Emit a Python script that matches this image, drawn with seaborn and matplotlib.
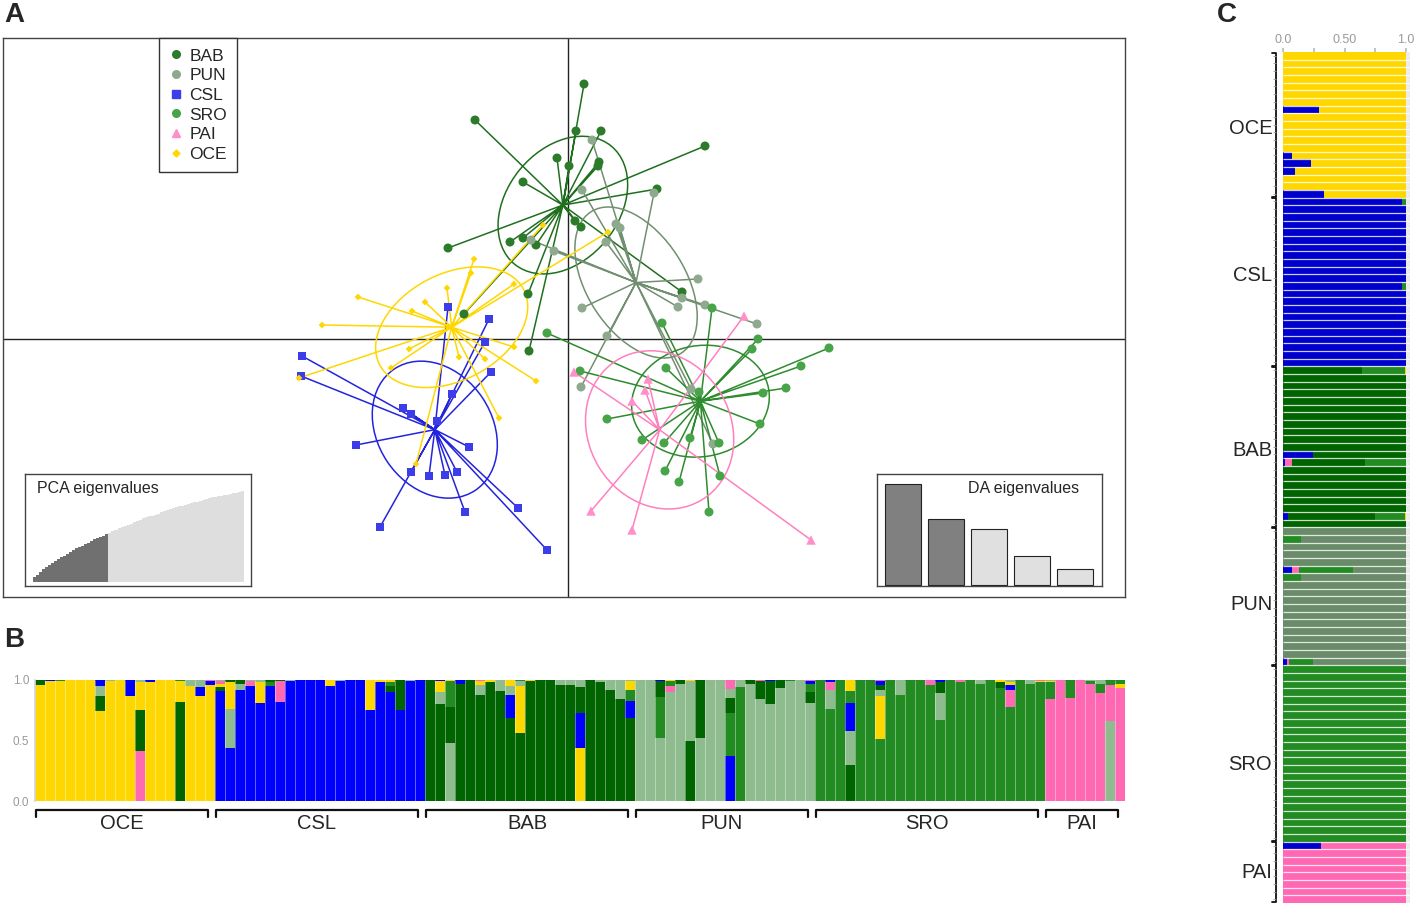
import numpy as np
import pandas as pd
import matplotlib
matplotlib.use("Agg")
import matplotlib.pyplot as plt
import seaborn as sns
from matplotlib.patches import Ellipse
from matplotlib.lines import Line2D

sns.set_theme(style="white")
plt.rcParams['font.family'] = ['Liberation Sans', 'DejaVu Sans']

W, H = 1417, 907

# ---------------- Panel A: DAPC scores (LD1, LD2) ----------------
pops = ["BAB", "PUN", "CSL", "SRO", "PAI", "OCE"]

bab_x = [-1.86, -0.22, 0.02, -0.90, 0.16, 0.14, -1.16, -0.90, -0.64, -2.40, -0.80,
         -2.08, 0.32, 0.66, 0.62, 0.60, 2.74, 1.78, 0.26, 2.28, -0.78]
bab_y = [4.38, 3.62, 3.46, 3.14, 4.16, 2.36, 1.94, 2.02, 1.88, 1.82, 0.90,
         0.50, 5.10, 4.16, 3.54, 3.46, 3.86, 3.00, 2.24, 0.94, -0.24]

pun_x = [0.48, 0.28, 1.72, 0.96, 1.04, 0.76, -0.28, -0.74, 2.60, 0.28, 2.20,
         2.28, 2.74, 3.78, 0.78, 0.26, 2.46, 2.90]
pun_y = [3.98, 2.98, 2.92, 2.30, 2.22, 1.94, 1.76, 1.98, 1.20, 0.62, 0.64,
         0.82, 0.68, 0.30, 0.06, -0.96, -1.00, -2.10]

csl_x = [-2.40, -1.58, -1.66, -5.32, -5.34, -1.54, -2.32, -3.30, -3.14, -2.62,
         -4.24, -1.98, -3.14, -2.78, -2.46, -2.22, -1.00, -2.06, -3.76, -0.42]
csl_y = [0.64, 0.40, -0.06, -0.34, -0.74, -0.66, -1.10, -1.38, -1.50, -1.64,
         -2.12, -2.16, -2.66, -2.74, -2.72, -2.66, -3.38, -3.46, -3.76, -4.22]

sro_x = [2.88, 1.88, -0.42, 3.80, 3.68, 5.22, 4.66, 0.24, 1.96, 2.62, 4.36,
         3.90, 0.78, 3.84, 1.48, 1.92, 2.44, 3.02, 1.94, 3.04, 2.22, 2.82]
sro_y = [0.62, 0.32, 0.12, 0.00, -0.20, -0.18, -0.54, -0.64, -0.58, -1.06, -0.98,
         -1.08, -1.60, -1.70, -2.02, -2.08, -1.98, -2.08, -2.64, -2.74, -2.86, -3.46]

pai_x = [3.52, 0.12, 1.60, 1.54, 1.28, 0.46, 1.28, 4.86]
pai_y = [0.46, -0.66, -0.80, -1.02, -1.24, -3.44, -3.82, -4.02]

oce_x = [-1.88, -1.94, -2.42, -2.86, -3.12, -4.20, -4.92, -1.08, -0.50, 0.80,
         -3.18, -3.54, -2.18, -1.66, -1.08, -0.64, -1.38, -5.38, -3.04]
oce_y = [1.60, 1.32, 1.02, 0.74, 0.56, 0.84, 0.28, 1.10, 2.28, 2.14,
         -0.20, -0.58, -0.36, -0.40, -0.16, -0.84, -1.58, -0.78, -2.50]

# inset eigenvalues
pca_cum = [5, 8, 11, 14, 16, 19, 21, 23, 25, 27, 29, 31, 33, 35, 37, 38, 40, 42, 43,
           45, 47, 48, 50, 51, 53,
           54, 56, 57, 59, 60, 62, 63, 64, 66, 67, 68, 70, 71, 72, 73, 74, 75, 77,
           78, 79, 80, 81, 82, 83, 84, 85, 86, 87, 88, 88, 89, 90, 91, 92, 93, 93,
           94, 95, 96, 96, 97, 98, 98, 99, 100]
n_pca_kept = 25
da_eig = [101, 66, 56, 29, 16]
n_da_kept = 2

# ---------------- Panel B: membership per individual ----------------
B_OCE = [dict(Y=.96, D=.04), dict(Y=.99, B=.01), dict(Y=.99, G=.01), dict(Y=1.0),
         dict(Y=1.0), dict(Y=1.0), dict(Y=.74, D=.13, L=.08, B=.05), dict(Y=.99, L=.01),
         dict(Y=1.0), dict(Y=.87, B=.13), dict(P=.41, D=.34, Y=.23, L=.02),
         dict(Y=.98, B=.02), dict(Y=1.0), dict(Y=1.0), dict(D=.82, Y=.17, G=.01),
         dict(Y=.95, L=.05), dict(Y=.87, B=.07, L=.06), dict(Y=.96, B=.03, P=.01)]
B_CSL = [dict(B=.91, D=.03, Y=.03, P=.02, L=.01), dict(B=.44, L=.32, Y=.22, D=.02),
         dict(B=.92, L=.05, D=.03), dict(B=.95, P=.04, L=.01), dict(B=.81, Y=.17, L=.02),
         dict(B=.95, G=.03, D=.02), dict(B=.82, P=.17, D=.01), dict(B=.99, L=.01),
         dict(B=1.0), dict(B=1.0), dict(B=1.0), dict(B=.95, Y=.05), dict(B=.99, L=.01),
         dict(B=1.0), dict(B=1.0), dict(B=.75, Y=.25), dict(B=.98, Y=.02),
         dict(B=.90, D=.05, G=.03, Y=.02), dict(B=.75, D=.25), dict(B=.99, L=.01),
         dict(B=1.0)]
B_BAB = [dict(D=1.0), dict(D=.80, L=.10, Y=.09, B=.01), dict(L=.48, D=.30, G=.21, Y=.01),
         dict(D=.97, B=.03), dict(D=1.0), dict(D=.88, L=.08, Y=.03, P=.01),
         dict(D=.98, Y=.02), dict(D=.91, L=.09), dict(D=.69, B=.19, L=.07, Y=.05),
         dict(D=.56, Y=.39, L=.04, G=.01), dict(D=.99, Y=.01), dict(D=1.0), dict(D=1.0),
         dict(D=.96, L=.04), dict(D=.96, L=.04), dict(Y=.44, B=.29, D=.21, L=.06),
         dict(D=1.0), dict(D=.98, L=.02), dict(D=.92, L=.08), dict(D=.84, L=.16),
         dict(D=.69, B=.14, G=.09, Y=.07, L=.01)]
B_PUN = [dict(L=1.0), dict(L=1.0), dict(L=.52, G=.34, D=.13, B=.01),
         dict(L=.90, P=.05, G=.04, Y=.01), dict(L=.97, D=.03), dict(D=.50, L=.49, Y=.01),
         dict(L=.52, D=.48), dict(L=1.0), dict(L=1.0), dict(B=.37, G=.35, D=.12, L=.08, P=.07),
         dict(G=.94, L=.06), dict(L=.97, D=.03), dict(L=.84, D=.15, P=.01),
         dict(L=.80, D=.19, B=.01), dict(L=.93, D=.07), dict(L=.99, G=.01), dict(L=1.0),
         dict(L=.81, D=.09, G=.07, B=.02, P=.01)]
B_SRO = [dict(G=1.0), dict(G=.76, L=.16, P=.06, B=.02), dict(G=1.0),
         dict(D=.30, L=.28, B=.23, G=.10, Y=.09), dict(G=1.0), dict(G=1.0),
         dict(G=.51, Y=.36, L=.05, D=.04, B=.03, P=.01), dict(G=1.0), dict(G=.88, L=.12),
         dict(G=1.0), dict(G=1.0), dict(G=.96, P=.04), dict(G=.67, L=.22, D=.09, B=.02),
         dict(G=1.0), dict(G=.98, P=.02), dict(G=1.0), dict(G=.97, L=.03), dict(G=1.0),
         dict(G=.93, D=.05, Y=.02), dict(G=.78, P=.14, B=.04, Y=.02, L=.02), dict(G=1.0),
         dict(G=.97, L=.03), dict(G=.98, Y=.01, P=.01)]
B_PAI = [dict(P=.84, G=.14, Y=.01, L=.01), dict(P=1.0), dict(P=.85, G=.15), dict(P=1.0),
         dict(P=.97, G=.02, L=.01), dict(P=.89, G=.08, L=.03), dict(L=.66, P=.30, G=.04),
         dict(P=.93, Y=.04, G=.03)]

# ---------------- Panel C: membership per individual ----------------
C_OCE = ([dict(Y=1.0)] * 7 + [dict(B=.29, Y=.71)] + [dict(Y=1.0)] * 5 +
         [dict(B=.07, Y=.93), dict(B=.23, Y=.77), dict(B=.10, Y=.90)] +
         [dict(Y=1.0)] * 2 + [dict(B=.33, Y=.67)])
C_CSL = ([dict(B=.97, G=.03)] + [dict(B=1.0)] * 10 + [dict(B=.97, G=.03)] +
         [dict(B=1.0)] * 10)
C_BAB = ([dict(D=.64, G=.35, Y=.01)] + [dict(D=1.0)] * 10 + [dict(B=.24, D=.76),
         dict(B=.02, P=.05, D=.60, G=.33)] + [dict(D=1.0)] * 6 +
         [dict(B=.04, D=.71, G=.24, Y=.01), dict(D=1.0)])
C_PUN = ([dict(L=1.0), dict(G=.15, L=.85)] + [dict(L=1.0)] * 3 +
         [dict(B=.07, P=.06, G=.44, L=.43), dict(G=.15, L=.85)] + [dict(L=1.0)] * 10 +
         [dict(B=.03, P=.02, G=.19, L=.76)])
C_SRO = [dict(G=1.0)] * 23
C_PAI = [dict(B=.31, P=.69)] + [dict(P=1.0)] * 7
# where each group name sits along the panel C column (row units)
c_label_rows = {"OCE": 9.5, "CSL": 28.7, "BAB": 51.5, "PUN": 71.5, "SRO": 92.5, "PAI": 106.5}

# ---------------- colours ----------------
pt_col = {"BAB": "#2b7b2b", "PUN": "#8ea98e", "CSL": "#3c3ce8", "SRO": "#48a448",
          "PAI": "#ff8fc8", "OCE": "#ffd700"}
ln_col = {"BAB": "#1f6f1f", "PUN": "#718f71", "CSL": "#2424dc", "SRO": "#2e8b2e",
          "PAI": "#ff80bf", "OCE": "#ffd700"}
markers = {"BAB": "o", "PUN": "o", "CSL": "s", "SRO": "o", "PAI": "^", "OCE": "D"}
sizes = {"BAB": 42, "PUN": 42, "CSL": 36, "SRO": 42, "PAI": 46, "OCE": 12}
b_col = {"Y": "#ffd700", "B": "#0000ff", "D": "#006400", "L": "#8fbc8f",
         "G": "#228b22", "P": "#ff69b4"}
c_col = {"B": "#0000cd", "P": "#ff69b4", "D": "#006400", "G": "#228b22",
         "L": "#698b69", "Y": "#ffd700"}
c_order = ["B", "P", "D", "G", "L", "Y"]

fig = plt.figure(figsize=(W / 100, H / 100), dpi=100)

# ---- Panel A ----
xy = {"BAB": (bab_x, bab_y), "PUN": (pun_x, pun_y), "CSL": (csl_x, csl_y),
      "SRO": (sro_x, sro_y), "PAI": (pai_x, pai_y), "OCE": (oce_x, oce_y)}
df = pd.concat([pd.DataFrame({"pop": p, "LD1": xy[p][0], "LD2": xy[p][1]}) for p in pops],
               ignore_index=True)

ax = fig.add_axes([3 / W, 1 - 597 / H, 1122 / W, 559 / H])
ax.axhline(0, color="#222222", lw=1, zorder=0)
ax.axvline(0, color="#222222", lw=1, zorder=0)

for p in pops:
    g = df[df["pop"] == p]
    cx, cy = g["LD1"].mean(), g["LD2"].mean()
    xs, ys = [], []
    for x, y in zip(g["LD1"], g["LD2"]):
        xs += [cx, x, np.nan]
        ys += [cy, y, np.nan]
    ax.plot(xs, ys, color=ln_col[p], lw=1.1, zorder=1)
    cov = np.cov(np.vstack([g["LD1"], g["LD2"]]), bias=True)
    vals, vecs = np.linalg.eigh(cov)
    ang = np.degrees(np.arctan2(vecs[1, 1], vecs[0, 1]))
    ax.add_patch(Ellipse((cx, cy), 2 * np.sqrt(vals[1]), 2 * np.sqrt(vals[0]), angle=ang,
                         fill=False, ec=ln_col[p], lw=1.1, zorder=1))

sns.scatterplot(data=df, x="LD1", y="LD2", hue="pop", style="pop", size="pop",
                palette=pt_col, markers=markers, sizes=sizes, linewidth=0,
                legend=False, ax=ax, zorder=2)
ax.set_xlim(-11.30, 11.14)
ax.set_ylim(-5.16, 6.02)
ax.set_xticks([])
ax.set_yticks([])
ax.set_xlabel("")
ax.set_ylabel("")
for s in ax.spines.values():
    s.set_color("#444444")
    s.set_linewidth(1)

handles = [Line2D([], [], ls="", marker=markers[p], color=pt_col[p],
                  markersize=5.5 if p != "OCE" else 3.5) for p in pops]
leg = ax.legend(handles, pops, loc="upper left", bbox_to_anchor=(0.139, 1.0),
                fontsize=12.5, frameon=True, fancybox=False, framealpha=1,
                handlelength=0.8, handletextpad=0.35, labelspacing=0.26,
                borderpad=0.6, borderaxespad=0)
leg.get_frame().set_edgecolor("#333333")
leg.get_frame().set_linewidth(1)

# PCA eigenvalues inset
ax_p = fig.add_axes([25 / W, 1 - 586 / H, 226 / W, 112 / H])
ax_p.bar(range(len(pca_cum)), pca_cum, width=1.0, lw=0,
         color=["#707070" if i < n_pca_kept else "#dedede" for i in range(len(pca_cum))])
ax_p.set_xlim(-3.2, len(pca_cum) + 1.8)
ax_p.set_ylim(-4.4, 118.7)
ax_p.text(0.053, 0.935, "PCA eigenvalues", transform=ax_p.transAxes, va="top",
          ha="left", fontsize=11.5)

# DA eigenvalues inset
ax_d = fig.add_axes([877 / W, 1 - 586 / H, 225 / W, 112 / H])
ax_d.bar(range(len(da_eig)), da_eig, width=0.84, edgecolor="#222222", lw=0.8,
         color=["#808080" if i < n_da_kept else "#e0e0e0" for i in range(len(da_eig))])
ax_d.set_xlim(-0.60, 4.63)
ax_d.set_ylim(-1, 111)
ax_d.text(0.9, 0.935, "DA eigenvalues", transform=ax_d.transAxes, va="top",
          ha="right", fontsize=11.5)
for a in (ax_p, ax_d):
    a.set_xticks([])
    a.set_yticks([])
    a.set_facecolor("white")
    for s in a.spines.values():
        s.set_color("#444444")
        s.set_linewidth(1)

# ---- Panel B ----
b_groups = [("OCE", B_OCE), ("CSL", B_CSL), ("BAB", B_BAB), ("PUN", B_PUN),
            ("SRO", B_SRO), ("PAI", B_PAI)]
ax_b = fig.add_axes([35 / W, 1 - 801 / H, 1090 / W, 121 / H])
i = 0
spans = []
for name, inds in b_groups:
    start = i
    for q in inds:
        tot = sum(q.values())
        bottom = 0.0
        for k, v in sorted(q.items(), key=lambda kv: -kv[1]):
            ax_b.bar(i, v / tot, bottom=bottom, width=1.0, color=b_col[k], lw=0)
            bottom += v / tot
        i += 1
    spans.append((name, start, i))
n_b = i
ax_b.vlines(np.arange(0.5, n_b - 0.5), 0, 1, colors="white", lw=0.6, alpha=0.45)
ax_b.set_xlim(-0.5, n_b - 0.5)
ax_b.set_ylim(0, 1.0)
ax_b.set_xticks([])
ax_b.set_yticks([0, 0.5, 1.0])
ax_b.set_yticklabels(["0.0", "0.5", "1.0"], color="#9a9a9a", fontsize=8.5)
ax_b.tick_params(axis="y", length=2, color="#cccccc", pad=2)
for k in ("top", "right", "bottom"):
    ax_b.spines[k].set_visible(False)
ax_b.spines["left"].set_color("#d5d5d5")
trb = ax_b.get_xaxis_transform()
for name, s0, s1 in spans:
    x0, x1 = s0 - 0.4, s1 - 1.2
    ax_b.plot([x0, x0, x1, x1], [-0.135, -0.074, -0.074, -0.135], color="#111111",
              lw=1.6, transform=trb, clip_on=False)
    ax_b.text((x0 + x1) / 2, -0.185, name, transform=trb, ha="center", va="center",
              fontsize=14.5)

# ---- Panel C ----
c_groups = [("OCE", C_OCE), ("CSL", C_CSL), ("BAB", C_BAB), ("PUN", C_PUN),
            ("SRO", C_SRO), ("PAI", C_PAI)]
n_c = sum(len(r) for _, r in c_groups)
ax_c = fig.add_axes([1283 / W, 1 - 903 / H, 127 / W, 851 / H])
ax_c.set_facecolor("#ececec")
row = 0
c_spans = []
for name, rows in c_groups:
    start = row
    for q in rows:
        left = 0.0
        for k in c_order:
            v = q.get(k, 0)
            if v:
                ax_c.barh(row, v, left=left, height=1.0, color=c_col[k], lw=0)
                left += v
        row += 1
    c_spans.append((name, start, row))
ax_c.hlines(np.arange(0.5, n_c - 0.5), 0, 1.04, colors="white", lw=0.9, alpha=0.8)
ax_c.set_xlim(0, 1.0325)
ax_c.set_ylim(n_c - 0.5, -0.5)
ax_c.xaxis.tick_top()
ax_c.set_xticks([0, 0.25, 0.5, 0.75, 1.0])
ax_c.set_xticklabels(["0.0", "", "0.50", "", "1.0"], color="#9a9a9a", fontsize=9)
ax_c.tick_params(axis="x", length=3, color="#bbbbbb", pad=1)
ax_c.set_yticks([])
for s in ax_c.spines.values():
    s.set_visible(False)
trc = ax_c.get_yaxis_transform()
for name, s0, s1 in c_spans:
    y0, y1 = s0 - 0.4, s1 - 0.6
    ax_c.plot([-0.085, -0.055, -0.055, -0.085], [y0, y0, y1, y1], color="#111111",
              lw=1.3, transform=trc, clip_on=False)
    ax_c.hlines(np.arange(s0, s1), -0.075, -0.055, colors="#999999", lw=0.6,
                transform=trc, clip_on=False)
    ax_c.text(-0.085, c_label_rows[name], name, transform=trc, ha="right", va="center",
              fontsize=14.5)

# panel letters
fig.text(4 / W, 1 - 2 / H, "A", fontsize=20, fontweight="bold", va="top", ha="left")
fig.text(4 / W, 1 - 627 / H, "B", fontsize=20, fontweight="bold", va="top", ha="left")
fig.text(1217 / W, 1 - 2 / H, "C", fontsize=20, fontweight="bold", va="top", ha="left")

fig.savefig("out.png", dpi=100)
